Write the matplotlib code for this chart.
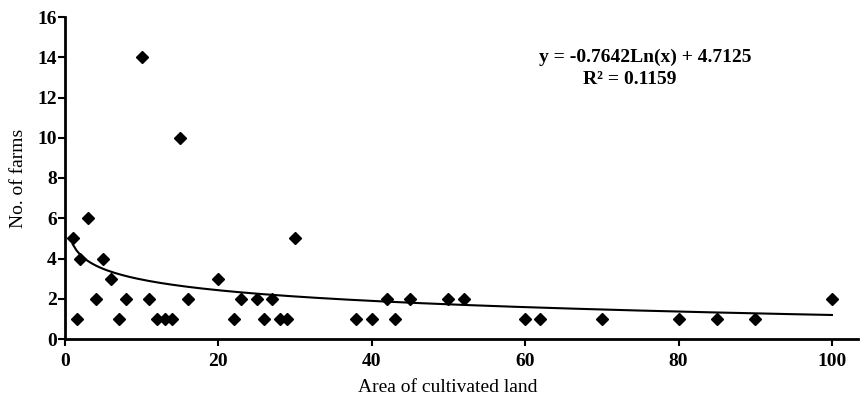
"""Scatter of farm counts against cultivated area with a log trend line"""

import numpy as np
import matplotlib
matplotlib.use("Agg")
import matplotlib.pyplot as plt

# Data
area = [1, 1.5, 2, 3, 4, 5, 6, 7, 8, 10, 11, 12, 13, 14, 15, 16, 20, 22, 23, 25, 26, 27,
        28, 29, 30, 38, 40, 42, 43, 45, 50, 52, 60, 62, 70, 80, 85, 90, 100]
farms = [5, 1, 4, 6, 2, 4, 3, 1, 2, 14, 2, 1, 1, 1, 10, 2, 3, 1, 2, 2, 1, 2,
         1, 1, 5, 1, 1, 2, 1, 2, 2, 2, 1, 1, 1, 1, 1, 1, 2]

# Log fit shown on the chart
slope = -0.7642
intercept = 4.7125
r2 = 0.1159
eq_text = "y = -0.7642Ln(x) + 4.7125"
r2_text = "R² = 0.1159"

xticks = [0, 20, 40, 60, 80, 100]
yticks = [0, 2, 4, 6, 8, 10, 12, 14, 16]

plt.rcParams["font.family"] = ["Liberation Serif", "DejaVu Serif"]

fig = plt.figure(figsize=(8.6, 4.01), dpi=100)
ax = fig.add_axes([65 / 860, 62 / 401, 793 / 860, 322 / 401])

ax.plot(area, farms, linestyle="none", marker="D", markersize=6.2, color="black")

xfit = np.linspace(1, 100, 200)
ax.plot(xfit, slope * np.log(xfit) + intercept, color="black", linewidth=1.5)

# Axes styling
ax.set_xlim(0, 103.4)
ax.set_ylim(0, 16)
ax.set_xticks(xticks)
ax.set_yticks(yticks)
for side in ("top", "right"):
    ax.spines[side].set_visible(False)
for side in ("left", "bottom"):
    ax.spines[side].set_linewidth(2)
ax.tick_params(direction="out", length=5, width=1.5, labelsize=14)
ax.tick_params(axis="y", pad=1)
ax.tick_params(axis="x", pad=5)
for lab in ax.get_xticklabels() + ax.get_yticklabels():
    lab.set_fontweight("bold")

ax.set_xlabel("Area of cultivated land", fontsize=14)
ax.set_ylabel("No. of farms", fontsize=14)
ax.xaxis.set_label_coords((448 - 65) / 793, -0.125)
ax.yaxis.set_label_coords(-0.048, 0.5)

ax.text(75.6, 14.0, eq_text, ha="center", va="center", fontsize=14, fontweight="bold")
ax.text(73.7, 12.9, r2_text, ha="center", va="center", fontsize=14, fontweight="bold")

plt.savefig("out.png", dpi=100)
